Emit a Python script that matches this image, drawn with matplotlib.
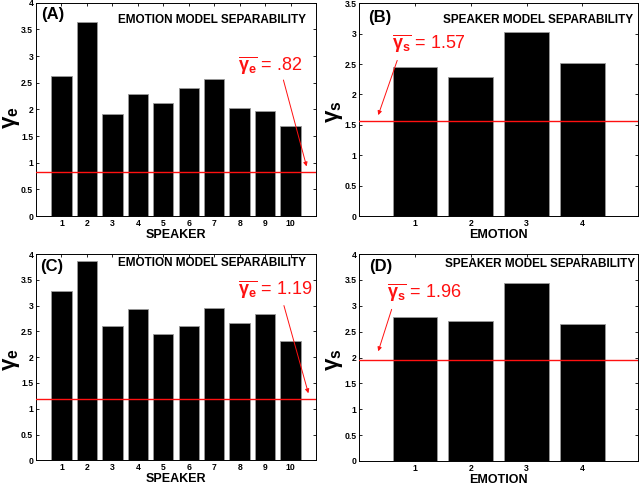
import matplotlib
matplotlib.use("Agg")
import matplotlib.pyplot as plt
import numpy as np

plt.rcParams['font.family'] = ['Liberation Sans', 'DejaVu Sans']
plt.rcParams['mathtext.fontset'] = 'custom'
plt.rcParams['mathtext.rm'] = 'Liberation Sans'
plt.rcParams['mathtext.it'] = 'Liberation Sans:italic'
plt.rcParams['mathtext.bf'] = 'Liberation Sans:bold'

# Data
speakers = list(range(1, 11))
emotions = list(range(1, 5))
gamma_e_A = [2.63, 3.64, 1.92, 2.29, 2.12, 2.40, 2.56, 2.03, 1.97, 1.68]
gamma_s_B = [2.45, 2.28, 3.03, 2.51]
gamma_e_C = [3.29, 3.87, 2.60, 2.94, 2.44, 2.61, 2.96, 2.67, 2.84, 2.31]
gamma_s_D = [2.79, 2.70, 3.43, 2.64]
mean_A, mean_B, mean_C, mean_D = 0.82, 1.57, 1.19, 1.96
labels_mean = ['.82', '1.57', '1.19', '1.96']

fig = plt.figure(figsize=(6.39, 4.88), dpi=100)

W, H = 639.0, 488.0
def rect(l, t, r, b):
    return [l / W, 1 - b / H, (r - l) / W, (b - t) / H]

axA = fig.add_axes(rect(36, 2.7, 316, 216))
axB = fig.add_axes(rect(359.3, 3.3, 638, 216))
axC = fig.add_axes(rect(36, 254, 316, 460.3))
axD = fig.add_axes(rect(359.3, 254, 638, 461))

red = '#ff1010'

def style(ax, x, vals, xlim, ylim, yticks, ytl, panel, title, xlabel, ylabel, mean,
          pl_x, pl_y, ti_x, ti_y, yl_x, yl_y):
    ax.bar(x, vals, width=0.8, color='black', edgecolor='#9a9a9a', linewidth=0.6, zorder=2)
    ax.axhline(mean, color=red, lw=1.0, zorder=3)
    ax.set_xlim(*xlim)
    ax.set_ylim(*ylim)
    ax.set_xticks(x)
    ax.set_xticklabels([str(v) for v in x], fontsize=6.2, fontweight='bold')
    ax.set_yticks(yticks)
    ax.set_yticklabels(ytl, fontsize=6.2, fontweight='bold')
    ax.tick_params(direction='in', length=2.5, width=0.6, top=True, right=True, pad=2)
    for s in ax.spines.values():
        s.set_linewidth(0.7)
    ax.text(pl_x, pl_y, panel, transform=ax.transAxes, fontsize=12, fontweight='bold',
            va='baseline', ha='left')
    ax.text(ti_x, ti_y, title, transform=ax.transAxes, fontsize=8.5, fontweight='bold',
            va='baseline', ha='right')
    ax.set_xlabel(xlabel, fontsize=9, fontweight='bold', labelpad=1)
    ax.set_ylabel(ylabel, fontsize=16)
    ax.yaxis.set_label_coords(yl_x, yl_y)

def yt(top):
    vals = np.arange(0, top + 0.01, 0.5)
    labs = [('%g' % v) for v in vals]
    return vals, labs

v, l = yt(4)
style(axA, speakers, gamma_e_A, (0, 11), (0, 4), v, l, '(A)', 'EMOTION MODEL SEPARABILITY',
      'SPEAKER', r'$\mathbf{\gamma_e}$', mean_A,
      0.018, 0.925, 0.964, 0.906, -0.05, 0.46)
v, l = yt(3.5)
style(axB, emotions, gamma_s_B, (0, 5), (0, 3.5), v, l, '(B)', 'SPEAKER MODEL SEPARABILITY',
      'EMOTION', r'$\mathbf{\gamma_s}$', mean_B,
      0.032, 0.91, 0.981, 0.907, -0.05, 0.49)
v, l = yt(4)
style(axC, speakers, gamma_e_C, (0, 11), (0, 4), v, l, '(C)', 'EMOTION MODEL SEPARABILITY',
      'SPEAKER', r'$\mathbf{\gamma_e}$', mean_C,
      0.014, 0.918, 0.964, 0.943, -0.05, 0.49)
v, l = yt(4)
style(axD, emotions, gamma_s_D, (0, 5), (0, 4), v, l, '(D)', 'SPEAKER MODEL SEPARABILITY',
      'EMOTION', r'$\mathbf{\gamma_s}$', mean_D,
      0.036, 0.918, 0.988, 0.936, -0.05, 0.49)

def annot(ax, txt, tx, ty, ax0, ay0, ax1, ay1):
    ax.text(tx, ty, txt, color=red, fontsize=13, va='baseline', ha='left', zorder=5)
    ax.annotate('', xy=(ax1, ay1), xytext=(ax0, ay0),
                arrowprops=dict(arrowstyle='-|>', color=red, lw=0.7,
                                mutation_scale=6, shrinkA=0, shrinkB=0), zorder=5)

annot(axA, r'$\overline{\mathbf{\gamma_e}}$ = ' + labels_mean[0], 7.95, 2.74, 9.72, 2.55, 10.63, 0.93)
annot(axB, r'$\overline{\mathbf{\gamma_s}}$ = ' + labels_mean[1], 0.58, 2.76, 0.68, 2.56, 0.34, 1.66)
annot(axC, r'$\overline{\mathbf{\gamma_e}}$ = ' + labels_mean[2], 7.95, 3.22, 9.74, 3.0, 10.7, 1.30)
annot(axD, r'$\overline{\mathbf{\gamma_s}}$ = ' + labels_mean[3], 0.49, 3.16, 0.58, 2.93, 0.34, 2.12)

fig.savefig('out.png', dpi=100)
